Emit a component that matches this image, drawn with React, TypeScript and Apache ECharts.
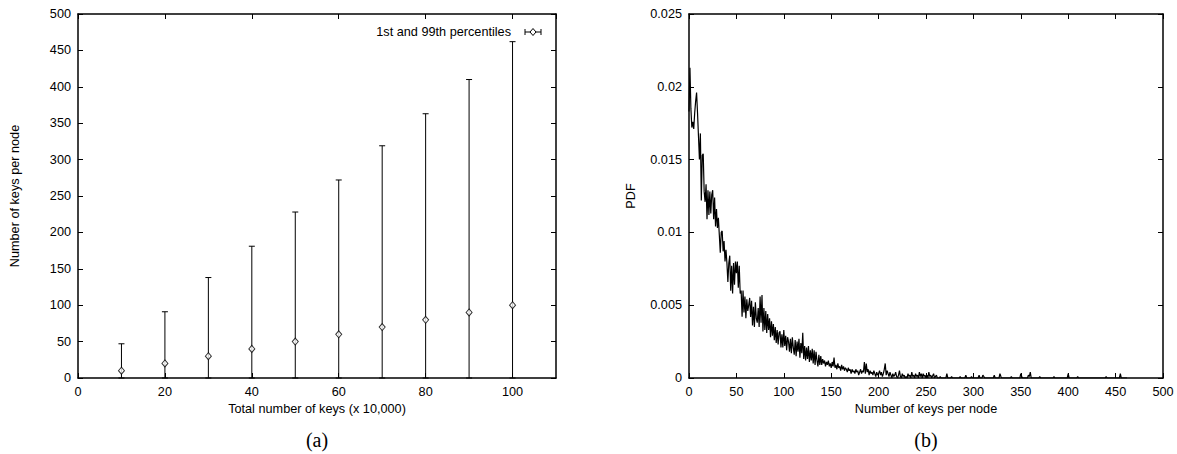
import React, { useEffect, useRef } from "react";
import * as echarts from "echarts";

// ---- Chart (a): keys per node vs total keys ----
const totalKeys = [10, 20, 30, 40, 50, 60, 70, 80, 90, 100];
const meanKeys = [10, 20, 30, 40, 50, 60, 70, 80, 90, 100];
const p1Keys = [0, 0, 0, 0, 0, 0, 0, 0, 0, 0];
const p99Keys = [47, 91, 138, 181, 228, 272, 319, 363, 410, 462];
const legendLabel = "1st and 99th percentiles";

// ---- Chart (b): PDF of keys per node (x = 0..229, step 1) ----
const pdfHead = [
  0.0183, 0.0213, 0.0185, 0.0172, 0.0176, 0.0171, 0.0182, 0.0190, 0.0196, 0.0182,
  0.0166, 0.0150, 0.0168, 0.0122, 0.0153, 0.0154, 0.0128, 0.0121, 0.0133, 0.0109,
  0.0129, 0.0112, 0.0128, 0.0113, 0.0126, 0.0129, 0.0109, 0.0124, 0.0104, 0.0116,
  0.0103, 0.0110, 0.0098, 0.0086, 0.0100, 0.0101, 0.0087, 0.0094, 0.0080, 0.0088,
  0.0079, 0.0066, 0.0079, 0.0084, 0.0060, 0.0077, 0.0058, 0.0079, 0.0064, 0.0080,
  0.0072, 0.0080, 0.0062, 0.0077, 0.0058, 0.0060, 0.0042, 0.0060, 0.0045, 0.0056,
  0.0041, 0.0054, 0.0046, 0.0050, 0.0055, 0.0042, 0.0053, 0.0036, 0.0049, 0.0035,
  0.0052, 0.0041, 0.0038, 0.0048, 0.0035, 0.0056, 0.0038, 0.0057, 0.0032, 0.0048,
  0.0033, 0.0046, 0.0031, 0.0044, 0.0033, 0.0041, 0.0028, 0.0039, 0.0029, 0.0037,
  0.0026, 0.0035, 0.0024, 0.0033, 0.0023, 0.0031, 0.0032, 0.0021, 0.0030, 0.0021,
  0.0033, 0.0022, 0.0029, 0.0019, 0.0028, 0.0025, 0.0018, 0.0027, 0.0017, 0.0028,
  0.0021, 0.0016, 0.0026, 0.0015, 0.0025, 0.0018, 0.0027, 0.0014, 0.0024, 0.0017,
  0.0031, 0.0013, 0.0022, 0.0012, 0.0021, 0.0013, 0.0022, 0.0011, 0.0019, 0.0012,
  0.0020, 0.0010, 0.0019, 0.0009, 0.0018, 0.0012, 0.0008, 0.0016, 0.0009, 0.0015,
  0.0009, 0.0013, 0.0010, 0.0012, 0.0008, 0.0011, 0.0009, 0.0012, 0.0008, 0.0010,
  0.0007, 0.0011, 0.0008, 0.0014, 0.0007, 0.0009, 0.0006, 0.0010, 0.0007, 0.0008,
  0.0005, 0.0009, 0.0006, 0.0008, 0.0005, 0.0007, 0.0006, 0.0004, 0.0007, 0.0005,
  0.0006, 0.0003, 0.0006, 0.0004, 0.0005, 0.0003, 0.0006, 0.0004, 0.0005, 0.0002,
  0.0004, 0.0006, 0.0003, 0.0005, 0.0004, 0.0011, 0.0003, 0.0010, 0.0004, 0.0006,
  0.0002, 0.0005, 0.0003, 0.0004, 0.0002, 0.0005, 0.0003, 0.0001, 0.0004, 0.0002,
  0.0003, 0.0005, 0.0002, 0.0004, 0.0001, 0.0003, 0.0006, 0.0010, 0.0002, 0.0005,
  0.0003, 0.0001, 0.0004, 0.0002, 0.0000, 0.0003, 0.0001, 0.0002, 0.0004, 0.0001,
  0.0000, 0.0002, 0.0005, 0.0001, 0.0000, 0.0003, 0.0001, 0.0002, 0.0000, 0.0001,
];
// sparse tail as [keys, pdf]
const pdfTail: [number, number][] = [
  [230, 0], [231, 0.0003], [232, 0.0001], [233, 0.0002], [234, 0], [235, 0.0004],
  [236, 0.0001], [237, 0.0002], [238, 0], [239, 0.0003], [240, 0.0001], [241, 0.0002],
  [242, 0], [243, 0.0004], [244, 0.0001], [245, 0.0003], [246, 0], [247, 0.0003],
  [248, 0.0001], [249, 0.0002], [250, 0], [251, 0.0002], [252, 0], [253, 0.0004],
  [254, 0.0001], [255, 0.0002], [256, 0], [258, 0.0003], [259, 0], [261, 0.0002],
  [262, 0], [264, 0], [265, 0.0001], [266, 0], [271, 0], [272, 0.0003], [273, 0],
  [276, 0], [277, 0.0001], [278, 0], [285, 0], [286, 0.0001], [287, 0], [291, 0],
  [292, 0.0002], [293, 0], [297, 0], [298, 0.0001], [299, 0], [305, 0], [306, 0.0002],
  [307, 0], [309, 0], [310, 0.0002], [311, 0.0001], [312, 0], [321, 0], [322, 0.0002],
  [323, 0], [327, 0], [328, 0.0003], [329, 0.0001], [330, 0], [339, 0], [340, 0.0001],
  [341, 0], [349, 0], [350, 0.0003], [351, 0.0001], [352, 0], [357, 0], [358, 0.0002],
  [359, 0.0001], [360, 0.0004], [361, 0], [369, 0], [370, 0.0001], [371, 0], [384, 0],
  [385, 0.0001], [386, 0], [399, 0], [400, 0.0003], [401, 0], [409, 0], [410, 0.0001],
  [411, 0], [439, 0], [440, 0.0001], [441, 0], [454, 0], [455, 0.0003], [456, 0], [462, 0],
];

const FONT = "Liberation Sans";
const FS = 12.7;
const BLACK = "#000";

function axisBase(extra: any) {
  return {
    type: "value",
    axisLine: { show: true, onZero: false, lineStyle: { color: BLACK, width: 1.5 } },
    axisTick: { show: true, inside: true, length: 5, lineStyle: { color: BLACK, width: 1 } },
    splitLine: { show: false },
    axisLabel: { color: BLACK, fontSize: FS, fontFamily: FONT, margin: 7 },
    nameTextStyle: { color: BLACK, fontSize: FS, fontFamily: FONT },
    ...extra,
  };
}

export default function App() {
  const ref = useRef<HTMLDivElement>(null);
  useEffect(() => {
    document.body.style.margin = "0";
    if (!ref.current) return;
    const chart = echarts.init(ref.current, null, { renderer: "svg" });

    const errData = totalKeys.map((x, i) => [x, p1Keys[i], p99Keys[i]]);
    const meanData = totalKeys.map((x, i) => [x, meanKeys[i]]);
    const pdfData = pdfHead.map((v, i) => [i, v]).concat(pdfTail);

    const option: any = {
      animation: false,
      backgroundColor: "#fff",
      grid: [
        { left: 78, top: 14, width: 478, height: 364 },
        { left: 689, top: 14, width: 474, height: 364 },
      ],
      xAxis: [
        axisBase({
          gridIndex: 0, min: 0, max: 110, interval: 20, position: "bottom",
          axisLabel: { color: BLACK, fontSize: FS, fontFamily: FONT, margin: 7, showMaxLabel: false },
          name: "Total number of keys (x 10,000)", nameLocation: "middle", nameGap: 22,
        }),
        axisBase({
          gridIndex: 0, min: 0, max: 110, interval: 20, position: "top",
          axisLabel: { show: false },
        }),
        axisBase({
          gridIndex: 1, min: 0, max: 500, interval: 50, position: "bottom",
          name: "Number of keys per node", nameLocation: "middle", nameGap: 22,
        }),
        axisBase({
          gridIndex: 1, min: 0, max: 500, interval: 50, position: "top",
          axisLabel: { show: false },
        }),
      ],
      yAxis: [
        axisBase({
          gridIndex: 0, min: 0, max: 500, interval: 50, position: "left",
          name: "Number of keys per node", nameLocation: "middle", nameGap: 57,
        }),
        axisBase({
          gridIndex: 0, min: 0, max: 500, interval: 50, position: "right",
          axisLabel: { show: false },
        }),
        axisBase({
          gridIndex: 1, min: 0, max: 0.025, interval: 0.005, position: "left",
          name: "PDF", nameLocation: "middle", nameGap: 52,
        }),
        axisBase({
          gridIndex: 1, min: 0, max: 0.025, interval: 0.005, position: "right",
          axisLabel: { show: false },
        }),
      ],
      series: [
        {
          type: "custom",
          name: legendLabel,
          xAxisIndex: 0,
          yAxisIndex: 0,
          data: errData,
          encode: { x: 0, y: [1, 2] },
          renderItem: (params: any, api: any) => {
            const x = api.value(0);
            const lo = api.coord([x, api.value(1)]);
            const hi = api.coord([x, api.value(2)]);
            const cap = 3;
            const style = { stroke: BLACK, lineWidth: 1 };
            return {
              type: "group",
              children: [
                { type: "line", shape: { x1: lo[0], y1: lo[1], x2: hi[0], y2: hi[1] }, style },
                { type: "line", shape: { x1: hi[0] - cap, y1: hi[1], x2: hi[0] + cap, y2: hi[1] }, style },
                { type: "line", shape: { x1: lo[0] - cap, y1: lo[1], x2: lo[0] + cap, y2: lo[1] }, style },
              ],
            };
          },
          z: 3,
        },
        {
          type: "scatter",
          xAxisIndex: 0,
          yAxisIndex: 0,
          data: meanData,
          symbol: "diamond",
          symbolSize: [6, 7],
          itemStyle: { color: "#fff", borderColor: BLACK, borderWidth: 1 },
          z: 4,
        },
        {
          type: "line",
          xAxisIndex: 2,
          yAxisIndex: 2,
          data: pdfData,
          showSymbol: false,
          symbol: "none",
          lineStyle: { color: BLACK, width: 1.2 },
          z: 3,
        },
      ],
      graphic: [
        {
          type: "text", x: 511, y: 32,
          style: { text: legendLabel, fill: BLACK, font: `${FS}px "${FONT}"`, textAlign: "right", textVerticalAlign: "middle" },
        },
        { type: "line", shape: { x1: 525, y1: 32, x2: 541, y2: 32 }, style: { stroke: BLACK, lineWidth: 1 } },
        { type: "line", shape: { x1: 525, y1: 29, x2: 525, y2: 35 }, style: { stroke: BLACK, lineWidth: 1 } },
        { type: "line", shape: { x1: 541, y1: 29, x2: 541, y2: 35 }, style: { stroke: BLACK, lineWidth: 1 } },
        {
          type: "polygon",
          shape: { points: [[533, 28.5], [536, 32], [533, 35.5], [530, 32]] },
          style: { fill: "#fff", stroke: BLACK, lineWidth: 1 },
        },
        {
          type: "text", x: 317, y: 440,
          style: { text: "(a)", fill: BLACK, font: '20px "Liberation Serif"', textAlign: "center", textVerticalAlign: "middle" },
        },
        {
          type: "text", x: 926, y: 440,
          style: { text: "(b)", fill: BLACK, font: '20px "Liberation Serif"', textAlign: "center", textVerticalAlign: "middle" },
        },
      ],
    };
    chart.setOption(option);
    return () => chart.dispose();
  }, []);
  return <div ref={ref} style={{ width: 1177, height: 454 }} />;
}
